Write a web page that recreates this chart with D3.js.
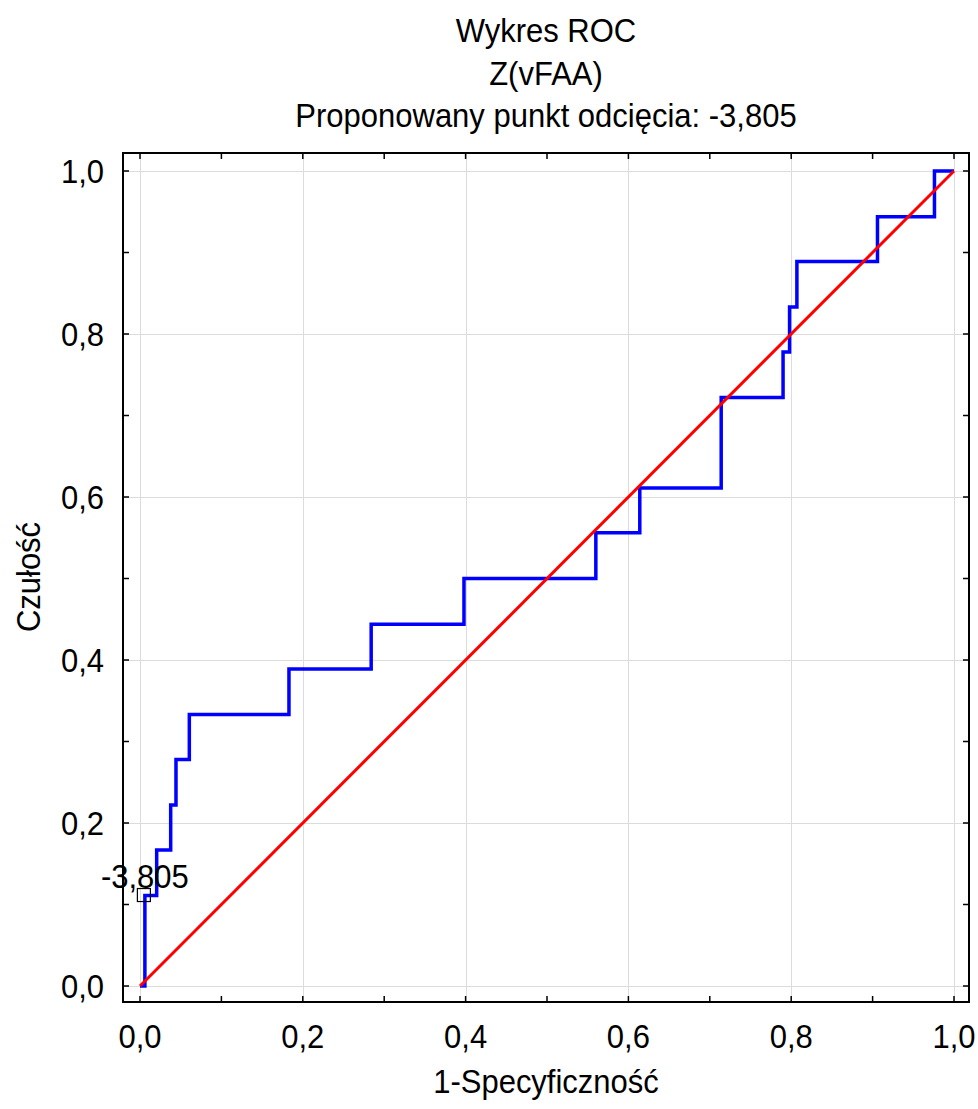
<!DOCTYPE html>
<html>
<head>
<meta charset="utf-8">
<script src="https://cdn.jsdelivr.net/npm/d3@7"></script>
<style>
  html, body { margin: 0; padding: 0; background: #fff; }
  svg { display: block; font-family: "Liberation Sans", Arial, sans-serif; }
</style>
</head>
<body>
<svg id="chart" width="978" height="1109"></svg>
<script>
// ROC curve corners: false positive rate (1 - specificity) and sensitivity
const fpr = [0, 0.006, 0.0205, 0.0377, 0.0442, 0.0606, 0.183, 0.284, 0.398, 0.560, 0.614, 0.714, 0.790, 0.798, 0.807, 0.906, 0.976, 1.0];
const tpr = [0, 0.111, 0.167, 0.222, 0.278, 0.333, 0.389, 0.444, 0.500, 0.556, 0.611, 0.722, 0.778, 0.833, 0.889, 0.944, 1.000, 1.000];

// Reference diagonal
const refX = [0, 1];
const refY = [0, 1];

// Proposed cut-off point
const cutoffLabel = "-3,805";
const cutoffPoint = { x: 0.006, y: 0.111 };

const titleLines = ["Wykres ROC", "Z(vFAA)", "Proponowany punkt odcięcia: -3,805"];
const xTitle = "1-Specyficzność";
const yTitle = "Czułość";
const majorTicks = [0, 0.2, 0.4, 0.6, 0.8, 1.0];
const minorTicks = [0.1, 0.3, 0.5, 0.7, 0.9];
const tickFormat = d => d.toFixed(1).replace(".", ",");

const svg = d3.select("#chart");
const frame = { left: 123, right: 969, top: 153, bottom: 1002 };

const x = d3.scaleLinear().domain([0, 1]).range([140, 954]);
const y = d3.scaleLinear().domain([0, 1]).range([986, 171]);

const FONT = 31;
const STRETCH = 1.08; // glyphs are slightly taller than wide

// Places a text at (px, py) with a small vertical stretch
function place(sel, px, py, rot) {
  sel.attr("transform", (d, i) => {
    const X = typeof px === "function" ? px(d, i) : px;
    const Y = typeof py === "function" ? py(d, i) : py;
    return `translate(${X},${Y})` + (rot ? ` rotate(${rot})` : "") + ` scale(1,${STRETCH})`;
  });
  return sel;
}

// Titles
place(svg.append("g").selectAll("text")
  .data(titleLines)
  .join("text")
  .attr("text-anchor", "middle")
  .attr("font-size", FONT)
  .attr("fill", "#000")
  .text(d => d), 546, (d, i) => 42 + i * 42.5);

// Grid
const grid = svg.append("g").attr("stroke", "#dcdcdc").attr("stroke-width", 1);
grid.selectAll("line.gx").data(majorTicks).join("line")
  .attr("x1", d => Math.round(x(d)) + 0.5).attr("x2", d => Math.round(x(d)) + 0.5)
  .attr("y1", frame.top).attr("y2", frame.bottom);
grid.selectAll("line.gy").data(majorTicks).join("line")
  .attr("y1", d => Math.round(y(d)) + 0.5).attr("y2", d => Math.round(y(d)) + 0.5)
  .attr("x1", frame.left).attr("x2", frame.right);

// Inward ticks on all four sides
const allTicks = majorTicks.concat(minorTicks);
const tickLen = 6;
const ax = svg.append("g").attr("stroke", "#000").attr("stroke-width", 1.5);
ax.selectAll("line.b").data(allTicks).join("line")
  .attr("x1", d => x(d)).attr("x2", d => x(d))
  .attr("y1", frame.bottom).attr("y2", frame.bottom - tickLen);
ax.selectAll("line.t").data(allTicks).join("line")
  .attr("x1", d => x(d)).attr("x2", d => x(d))
  .attr("y1", frame.top).attr("y2", frame.top + tickLen);
ax.selectAll("line.l").data(allTicks).join("line")
  .attr("y1", d => y(d)).attr("y2", d => y(d))
  .attr("x1", frame.left).attr("x2", frame.left + tickLen);
ax.selectAll("line.r").data(allTicks).join("line")
  .attr("y1", d => y(d)).attr("y2", d => y(d))
  .attr("x1", frame.right).attr("x2", frame.right - tickLen);

svg.append("rect")
  .attr("x", frame.left).attr("y", frame.top)
  .attr("width", frame.right - frame.left).attr("height", frame.bottom - frame.top)
  .attr("fill", "none").attr("stroke", "#000").attr("stroke-width", 2);

// Tick labels
place(svg.append("g").selectAll("text").data(majorTicks).join("text")
  .attr("text-anchor", "middle").attr("font-size", FONT)
  .text(tickFormat), d => x(d), 1048);
place(svg.append("g").selectAll("text").data(majorTicks).join("text")
  .attr("text-anchor", "end").attr("font-size", FONT)
  .text(tickFormat), 104, d => y(d) + 12);

// Axis titles
place(svg.append("text")
  .attr("text-anchor", "middle").attr("font-size", FONT)
  .text(xTitle), 546, 1093);
svg.append("text")
  .attr("transform", `translate(40,577) rotate(-90) scale(1,${STRETCH})`)
  .attr("text-anchor", "middle").attr("font-size", FONT)
  .text(yTitle);

// ROC step curve
const rocLine = d3.line()
  .x(d => x(d[0])).y(d => y(d[1]))
  .curve(d3.curveStepAfter);
svg.append("path")
  .datum(d3.zip(fpr, tpr))
  .attr("d", rocLine)
  .attr("fill", "none")
  .attr("stroke", "#0000ff")
  .attr("stroke-width", 3.5)
  .attr("stroke-linejoin", "miter");

// Diagonal reference line
svg.append("path")
  .datum(d3.zip(refX, refY))
  .attr("d", d3.line().x(d => x(d[0])).y(d => y(d[1])))
  .attr("fill", "none")
  .attr("stroke", "#ff0000")
  .attr("stroke-width", 3);

// Cut-off marker and label
const cx = x(cutoffPoint.x), cy = y(cutoffPoint.y);
svg.append("rect")
  .attr("x", cx - 7.5).attr("y", cy - 7)
  .attr("width", 13).attr("height", 13)
  .attr("fill", "none").attr("stroke", "#000").attr("stroke-width", 1.2);
place(svg.append("text")
  .attr("text-anchor", "middle").attr("font-size", FONT)
  .text(cutoffLabel), cx, cy - 8);
</script>
</body>
</html>
